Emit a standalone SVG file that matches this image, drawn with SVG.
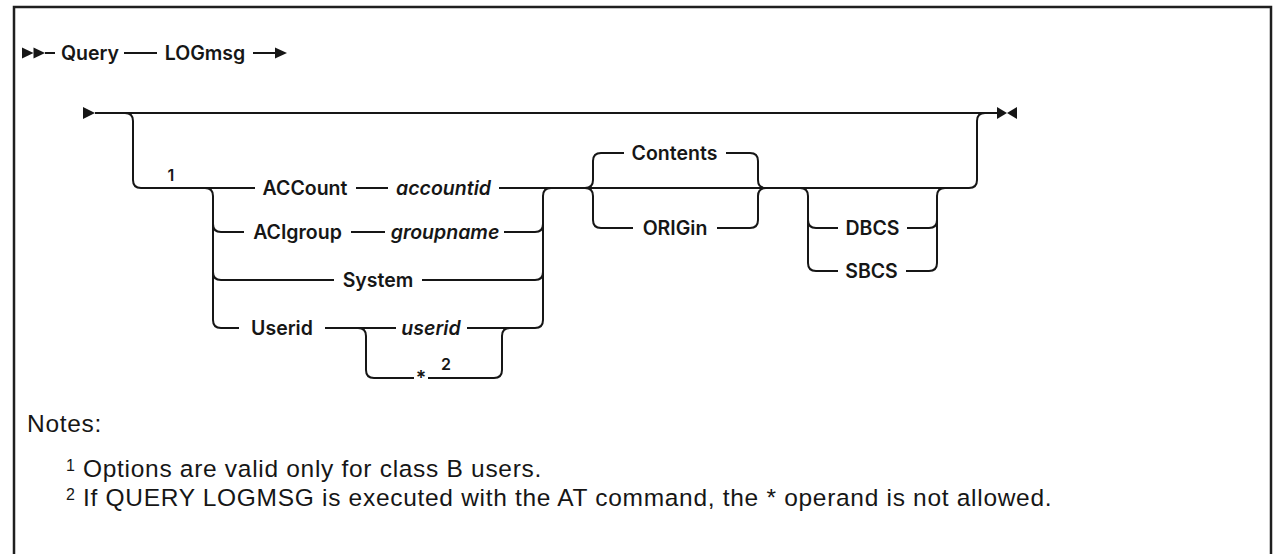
<svg xmlns="http://www.w3.org/2000/svg" width="1273" height="554" viewBox="0 0 1273 554">
<style>
.rail{fill:none;stroke:#161616;stroke-width:2;stroke-linejoin:round}
.ah{fill:#161616;stroke:none}
.kw{font-family:Inter,"Liberation Sans",sans-serif;font-size:19.5px;font-weight:600;fill:#161616;text-anchor:middle}
.var{font-family:Inter,"Liberation Sans",sans-serif;font-size:19.5px;font-weight:600;font-style:italic;fill:#161616;text-anchor:middle}
.sup{font-family:Inter,"Liberation Sans",sans-serif;font-size:16px;font-weight:600;fill:#161616;text-anchor:middle}
.note{font-family:"Liberation Sans",Arial,sans-serif;font-size:24.5px;letter-spacing:0.7px;fill:#161616}
.nsup{font-family:"Liberation Sans",Arial,sans-serif;font-size:16px;fill:#161616}
</style>
<rect x="0" y="0" width="1273" height="554" fill="#ffffff"/>
<rect x="14" y="7" width="1257" height="570" fill="#ffffff" stroke="#1f1f1f" stroke-width="2.5"/>

<g id="connectors">
  <path class="ah" d="M22 47.5 L33.5 53 L22 58.5 Z"/>
  <path class="ah" d="M33.5 47.5 L45 53 L33.5 58.5 Z"/>
  <path class="rail" d="M45 53 H55"/>
  <path class="rail" d="M124 53 H157"/>
  <path class="rail" d="M253 53 H278"/>
  <path class="ah" d="M275 47.5 L287 53 L275 58.5 Z"/>

  <path class="ah" d="M83 107 L95 113 L83 119 Z"/>
  <path class="rail" d="M95 113 H997"/>
  <path class="ah" d="M997 107 L1007 113 L997 119 Z"/>
  <path class="ah" d="M1017 107 L1007 113 L1017 119 Z"/>

  <path class="rail" d="M125 113 Q133 113 133 121 V180 Q133 188 141 188 H255"/>
  <path class="rail" d="M356 188 H388"/>
  <path class="rail" d="M499 188 H969 Q977 188 977 180 V121 Q977 113 985 113"/>

  <path class="rail" d="M205 188 Q213 188 213 196 V320 Q213 328 221 328 H239"/>
  <path class="rail" d="M213 224 Q213 232 221 232 H244"/>
  <path class="rail" d="M351 232 H385"/>
  <path class="rail" d="M504 232 H535 Q543 232 543 224"/>
  <path class="rail" d="M213 272 Q213 280 221 280 H334"/>
  <path class="rail" d="M422 280 H535 Q543 280 543 272"/>
  <path class="rail" d="M325 328 H396"/>
  <path class="rail" d="M467 328 H535 Q543 328 543 320 V196 Q543 188 551 188"/>
  <path class="rail" d="M358 328 Q366 328 366 336 V370 Q366 378 374 378 H414"/>
  <path class="rail" d="M428 378 H494 Q502 378 502 370 V336 Q502 328 510 328"/>

  <path class="rail" d="M585 188 Q593 188 593 180 V161 Q593 153 601 153 H624"/>
  <path class="rail" d="M726 153 H750 Q758 153 758 161 V180 Q758 188 766 188"/>
  <path class="rail" d="M585 188 Q593 188 593 196 V220 Q593 228 601 228 H633"/>
  <path class="rail" d="M717 228 H750 Q758 228 758 220 V196 Q758 188 766 188"/>

  <path class="rail" d="M800 188 Q808 188 808 196 V263 Q808 271 816 271 H838"/>
  <path class="rail" d="M906 271 H929 Q937 271 937 263 V196 Q937 188 945 188"/>
  <path class="rail" d="M808 220 Q808 228 816 228 H838"/>
  <path class="rail" d="M907 228 H929 Q937 228 937 220"/>
</g>

<g id="n-query"><text class="kw" x="90" y="60">Query</text></g>
<g id="n-logmsg"><text class="kw" x="205" y="60">LOGmsg</text></g>
<g id="n-note1ref"><text class="sup" x="171" y="181">1</text></g>
<g id="n-account"><text class="kw" x="305" y="195">ACCount</text></g>
<g id="n-accountid"><text class="var" x="443.5" y="195">accountid</text></g>
<g id="n-acigroup"><text class="kw" x="297.5" y="239">ACIgroup</text></g>
<g id="n-groupname"><text class="var" x="445" y="239">groupname</text></g>
<g id="n-system"><text class="kw" x="378" y="287">System</text></g>
<g id="n-userid-kw"><text class="kw" x="282" y="335">Userid</text></g>
<g id="n-userid-var"><text class="var" x="431" y="335">userid</text></g>
<g id="n-star"><text class="kw" x="421" y="385">*</text></g>
<g id="n-note2ref"><text class="sup" x="446" y="370">2</text></g>
<g id="n-contents"><text class="kw" x="674.5" y="160">Contents</text></g>
<g id="n-origin"><text class="kw" x="675" y="235">ORIGin</text></g>
<g id="n-dbcs"><text class="kw" x="872.5" y="235">DBCS</text></g>
<g id="n-sbcs"><text class="kw" x="871.5" y="278">SBCS</text></g>

<g id="notes">
  <text class="note" x="27" y="432">Notes:</text>
  <text class="nsup" x="66" y="471">1</text>
  <text class="note" x="83" y="477">Options are valid only for class B users.</text>
  <text class="nsup" x="66" y="500">2</text>
  <text class="note" x="83" y="506">If QUERY LOGMSG is executed with the AT command, the * operand is not allowed.</text>
</g>
</svg>
